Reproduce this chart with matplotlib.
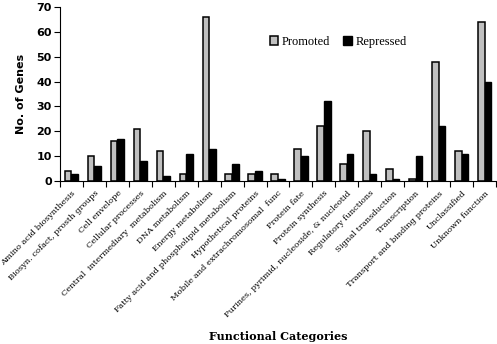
import matplotlib
matplotlib.use("Agg")
import matplotlib.pyplot as plt
import numpy as np

categories = [
    "Amino acid biosynthesis",
    "Biosyn. cofact, prosth groups",
    "Cell envelope",
    "Cellular processes",
    "Central  intermediary  metabolism",
    "DNA metabolism",
    "Energy metabolism",
    "Fatty acid and phospholipid metabolism",
    "Hypothetical proteins",
    "Mobile and extrachromosomal  func",
    "Protein fate",
    "Protein synthesis",
    "Purines, pyrimid, nucleoside, & nucleotid",
    "Regulatory functions",
    "Signal transduction",
    "Transcription",
    "Transport and binding proteins",
    "Unclassified",
    "Unknown function",
]
promoted = [4, 10, 16, 21, 12, 3, 66, 3, 3, 3, 13, 22, 7, 20, 5, 1, 48, 12, 64]
repressed = [3, 6, 17, 8, 2, 11, 13, 7, 4, 1, 10, 32, 11, 3, 1, 10, 22, 11, 40]
yticks = [0, 10, 20, 30, 40, 50, 60, 70]

fig = plt.figure(figsize=(4.97, 3.44), dpi=100)
ax = fig.add_axes([60/497, 163/344, 436/497, 174/344])

x = np.arange(len(categories))
w = 0.29
ax.bar(x - w/2, promoted, w, color="#c0c0c0", edgecolor="black", linewidth=1.1, label="Promoted")
ax.bar(x + w/2, repressed, w, color="black", edgecolor="black", linewidth=1.0, label="Repressed")

ax.set_xlim(-0.5, len(categories) - 0.5)
ax.set_ylim(0, 70)
ax.set_yticks(yticks)
ax.set_yticklabels([str(v) for v in yticks], fontsize=8, fontweight="bold", family="DejaVu Sans")
ax.tick_params(axis="y", direction="out", length=4, width=0.8, pad=2)

ax.set_xticks(x)
ax.set_xticklabels(categories, rotation=45, ha="right", rotation_mode="anchor",
                   fontsize=6, family="DejaVu Serif")
ax.tick_params(axis="x", which="major", length=0, pad=6)
ax.set_xticks(np.arange(len(categories) + 1) - 0.5, minor=True)
ax.tick_params(axis="x", which="minor", direction="out", length=4, width=0.8)

for s in ["top", "right"]:
    ax.spines[s].set_visible(False)
ax.spines["left"].set_linewidth(0.8)
ax.spines["bottom"].set_linewidth(0.8)

ax.set_ylabel("No. of Genes", fontsize=8, fontweight="bold", family="DejaVu Sans", labelpad=7)
fig.text(278/497, 1 - 337/344, "Functional Categories", ha="center", va="center",
         fontsize=8, fontweight="bold", family="DejaVu Serif")

leg = ax.legend(loc="center left", bbox_to_anchor=(0.455, 0.80), ncol=2, frameon=False,
                prop={"family": "Liberation Serif", "size": 9},
                handlelength=0.7, handleheight=0.7, handletextpad=0.3, columnspacing=1.0)

fig.savefig("out.png", dpi=100)
